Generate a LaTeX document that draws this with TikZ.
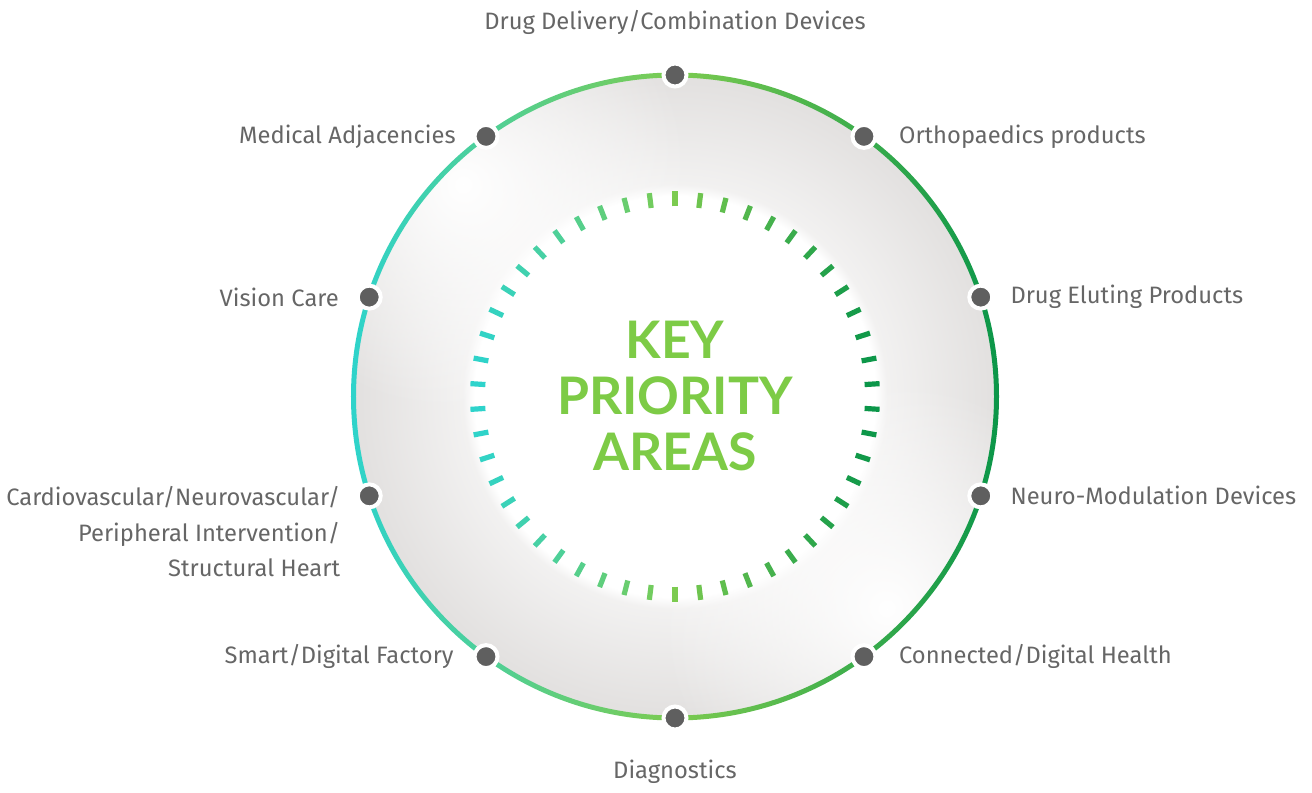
\documentclass[tikz,border=0pt]{standalone}
\usepackage{fontspec}
\setmainfont{Fira Sans}
\newfontfamily\titlefont{Lato}
\usetikzlibrary{positioning}
\usetikzlibrary{fadings}
\usetikzlibrary{calc}

\definecolor{cyanring}{HTML}{2ED3CB}
\definecolor{limering}{HTML}{7CCB50}
\definecolor{forestring}{HTML}{0B9649}
\definecolor{labelgray}{HTML}{666666}
\definecolor{dotgray}{HTML}{5F5F5F}
\definecolor{ringgray}{HTML}{E2E0DF}
\definecolor{titlegreen}{HTML}{7DCB46}

\pgfdeclareradialshading{ringshade}{\pgfpoint{0bp}{0bp}}{color(0bp)=(white); color(15.6bp)=(white); color(16.5bp)=(ringgray!45!white); color(25bp)=(ringgray); color(50bp)=(ringgray)}
\tikzfading[name=glowfade, inner color=transparent!0, outer color=transparent!100]

\begin{document}
\begin{tikzpicture}[x=0.75pt,y=0.75pt,
  spot/.style={circle,fill=dotgray,draw=white,line width=3pt,minimum size=17.25pt,inner sep=0pt},
  area/.style={font=\fontsize{17.8}{26.5}\selectfont,text=labelgray,inner sep=0pt},
  tick/.style={line width=3.9pt},
  title/.style={align=center,text=titlegreen,font=\titlefont\bfseries\fontsize{38.8}{42}\selectfont}]
  \useasboundingbox (-675,-395.5) rectangle (637,396.5);

  % grey ring behind everything
  \shade[shading=ringshade] (0,0) circle (321.5);
  \begin{scope}
    \clip (0,0) circle (321.5);
    \fill[white,path fading=glowfade] (135:300) circle (230);
    \fill[white,path fading=glowfade] (-45:300) circle (230);
  \end{scope}
  \fill[white] (0,0) circle (196);

  % inner ticks
  \foreach \i in {0,...,49}{
    \pgfmathsetmacro\ang{90+7.2*\i}
    \pgfmathsetmacro\cx{cos(\ang)}
    \pgfmathsetmacro\mixleft{max(0,min(100,100*(1+\cx)))}
    \pgfmathsetmacro\mixright{max(0,100*\cx)}
    \draw[tick,color=forestring!\mixright!limering!\mixleft!cyanring] (\ang:190) -- (\ang:205);
  }

  % outer ring
  \shade[even odd rule,left color=cyanring,right color=forestring,middle color=limering]
    (0,0) circle (324) (0,0) circle (319);

  \node[title] (t) at (0,0) {KEY\\PRIORITY\\AREAS};

  \node[spot] (p1) at (90:321.5) {};
  \node[spot] (p2) at (54:321.5) {};
  \node[spot] (p3) at (18:321.5) {};
  \node[spot] (p4) at (-18:321.5) {};
  \node[spot] (p5) at (-54:321.5) {};
  \node[spot] (p6) at (-90:321.5) {};
  \node[spot] (p7) at (-126:321.5) {};
  \node[spot] (p8) at (-162:321.5) {};
  \node[spot] (p9) at (162:321.5) {};
  \node[spot] (p10) at (126:321.5) {};

  \node[area] (l1) [above=20pt of p1] {Drug Delivery/Combination Devices};
  \node[area] (l2) [right=16pt of p2] {Orthopaedics products};
  \node[area] (l3) [right=12pt of p3] {Drug Eluting Products};
  \node[area] (l4) [right=12pt of p4] {Neuro-Modulation Devices};
  \node[area] (l5) [right=16pt of p5] {Connected/Digital Health};
  \node[area] (l6) [below=21pt of p6] {Diagnostics};
  \node[area] (l7) [left=14pt of p7] {Smart/Digital Factory};
  \node[area,align=right] (l8) [left=11.5pt of p8,yshift=-27pt] {Cardiovascular/Neurovascular/\\Peripheral Intervention/\\Structural Heart};
  \node[area] (l9) [left=12.5pt of p9] {Vision Care};
  \node[area] (l10) [left=12.5pt of p10] {Medical Adjacencies};
\end{tikzpicture}
\end{document}
